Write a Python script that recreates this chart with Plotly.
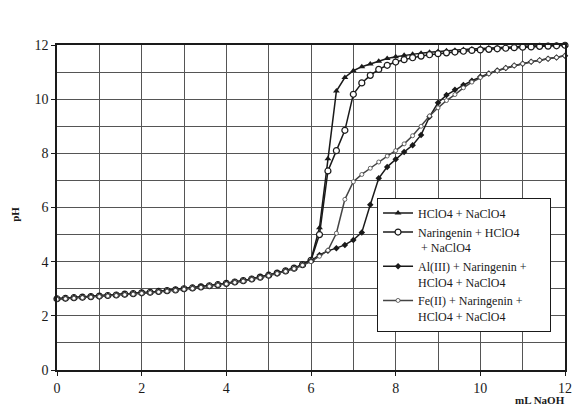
import plotly.graph_objects as go

mL_NaOH = [0.0, 0.2, 0.4, 0.6, 0.8, 1.0, 1.2, 1.4, 1.6, 1.8, 2.0, 2.2, 2.4, 2.6, 2.8,
           3.0, 3.2, 3.4, 3.6, 3.8, 4.0, 4.2, 4.4, 4.6, 4.8, 5.0, 5.2, 5.4, 5.6, 5.8,
           6.0, 6.2, 6.4, 6.6, 6.8, 7.0, 7.2, 7.4, 7.6, 7.8, 8.0, 8.2, 8.4, 8.6, 8.8,
           9.0, 9.2, 9.4, 9.6, 9.8, 10.0, 10.2, 10.4, 10.6, 10.8, 11.0, 11.2, 11.4,
           11.6, 11.8, 12.0]

ph_hclo4 = [2.63, 2.65, 2.67, 2.69, 2.71, 2.73, 2.75, 2.77, 2.80, 2.82, 2.85, 2.87, 2.90, 2.93, 2.96,
            3.00, 3.03, 3.07, 3.11, 3.15, 3.20, 3.25, 3.30, 3.36, 3.43, 3.50, 3.58, 3.66, 3.76, 3.89,
            4.07, 5.25, 7.80, 10.30, 10.80, 11.05, 11.20, 11.30, 11.40, 11.50, 11.57, 11.62, 11.66, 11.70, 11.73,
            11.76, 11.79, 11.81, 11.83, 11.85, 11.87, 11.89, 11.90, 11.92, 11.93, 11.95, 11.96, 11.97,
            11.98, 11.99, 12.00]

ph_naringenin = [2.63, 2.65, 2.67, 2.69, 2.71, 2.73, 2.75, 2.77, 2.80, 2.82, 2.85, 2.87, 2.90, 2.93, 2.96,
                 3.00, 3.03, 3.07, 3.11, 3.15, 3.20, 3.25, 3.30, 3.36, 3.43, 3.50, 3.58, 3.66, 3.76, 3.89,
                 4.05, 5.00, 7.35, 8.10, 8.85, 10.18, 10.60, 10.88, 11.10, 11.25, 11.37, 11.46, 11.53, 11.59, 11.64,
                 11.68, 11.71, 11.74, 11.77, 11.80, 11.82, 11.84, 11.86, 11.88, 11.90, 11.92, 11.93, 11.95,
                 11.96, 11.97, 11.99]

ph_al = [2.63, 2.65, 2.67, 2.69, 2.71, 2.73, 2.75, 2.77, 2.80, 2.82, 2.85, 2.87, 2.90, 2.93, 2.96,
         3.00, 3.03, 3.07, 3.11, 3.15, 3.20, 3.25, 3.30, 3.36, 3.43, 3.50, 3.58, 3.66, 3.76, 3.89,
         4.03, 4.25, 4.40, 4.50, 4.62, 4.80, 5.08, 6.10, 7.08, 7.50, 7.78, 8.05, 8.30, 8.68, 9.35,
         9.87, 10.15, 10.35, 10.52, 10.68, 10.83, 10.95, 11.06, 11.15, 11.24, 11.31, 11.38, 11.44,
         11.49, 11.54, 11.60]

ph_fe = [2.61, 2.63, 2.65, 2.67, 2.69, 2.71, 2.73, 2.75, 2.78, 2.80, 2.83, 2.85, 2.88, 2.91, 2.94,
         2.98, 3.01, 3.05, 3.09, 3.13, 3.18, 3.23, 3.28, 3.34, 3.41, 3.48, 3.56, 3.64, 3.74, 3.87,
         4.00, 4.20, 4.42, 5.05, 6.30, 6.95, 7.22, 7.45, 7.68, 7.90, 8.10, 8.35, 8.65, 9.00, 9.38,
         9.68, 9.95, 10.17, 10.42, 10.63, 10.80, 10.94, 11.05, 11.15, 11.24, 11.31, 11.38, 11.44,
         11.49, 11.54, 11.60]

PAD = "\u00a0" * 6
names = ["HClO4 + NaClO4",
         "Naringenin + HClO4" + PAD + "<br> + NaClO4",
         "Al(III) + Naringenin +" + PAD + "<br>HClO4 + NaClO4",
         "Fe(II) + Naringenin +<br>HClO4 + NaClO4"]

x_ticks = [0, 2, 4, 6, 8, 10, 12]
y_ticks = [0, 2, 4, 6, 8, 10, 12]

FONT = "Liberation Serif, Times New Roman, serif"

fig = go.Figure()
fig.add_trace(go.Scatter(x=mL_NaOH, y=ph_hclo4, name=names[0], mode="lines+markers",
                         line=dict(color="#1a1a1a", width=1.5),
                         marker=dict(symbol="triangle-up", size=6, color="#1a1a1a"),
                         cliponaxis=False))
fig.add_trace(go.Scatter(x=mL_NaOH, y=ph_naringenin, name=names[1], mode="lines+markers",
                         line=dict(color="#1a1a1a", width=1.5),
                         marker=dict(symbol="circle", size=6, color="white",
                                     line=dict(color="#1a1a1a", width=1.2)),
                         cliponaxis=False))
fig.add_trace(go.Scatter(x=mL_NaOH, y=ph_al, name=names[2], mode="lines+markers",
                         line=dict(color="#1a1a1a", width=1.5),
                         marker=dict(symbol="diamond", size=5, color="#1a1a1a"),
                         cliponaxis=False))
fig.add_trace(go.Scatter(x=mL_NaOH, y=ph_fe, name=names[3], mode="lines+markers",
                         line=dict(color="#444444", width=1.5),
                         marker=dict(symbol="circle", size=4, color="white",
                                     line=dict(color="#444444", width=0.8)),
                         cliponaxis=False))

axis_common = dict(showline=True, linecolor="#1a1a1a", linewidth=1.5, mirror=True,
                   showgrid=True, gridcolor="#555555", gridwidth=1, zeroline=False,
                   ticks="outside", ticklen=4, tickcolor="#1a1a1a", automargin=False,
                   tickfont=dict(family=FONT, size=14, color="#1a1a1a"))

fig.update_xaxes(range=[0, 12], tickvals=x_ticks,
                 minor=dict(dtick=1, showgrid=True, gridcolor="#555555", gridwidth=1),
                 **axis_common)
fig.update_yaxes(range=[0, 12], tickvals=y_ticks,
                 minor=dict(dtick=1, showgrid=True, gridcolor="#555555", gridwidth=1),
                 **axis_common)

fig.add_annotation(text="<b>pH</b>", xref="paper", yref="paper", x=-0.083, y=0.48,
                   xanchor="center", yanchor="middle",
                   textangle=-90, showarrow=False,
                   font=dict(family=FONT, size=11, color="#1a1a1a"))
fig.add_annotation(text="<b>mL NaOH</b>", xref="paper", yref="paper", x=0.951, y=-0.092,
                   xanchor="center", yanchor="middle",
                   showarrow=False, font=dict(family=FONT, size=11, color="#1a1a1a"))

fig.update_layout(
    width=573, height=410,
    margin=dict(l=57, r=8, t=45, b=40, autoexpand=False),
    plot_bgcolor="white", paper_bgcolor="white",
    showlegend=True,
    legend=dict(x=0.63, y=0.53, xanchor="left", yanchor="top",
                bgcolor="white", bordercolor="#1a1a1a", borderwidth=1,
                font=dict(family=FONT, size=12, color="#1a1a1a"),
                valign="top", tracegroupgap=0, itemwidth=30),
)

fig.write_html("out.html", config={"displayModeBar": False},
               post_script="document.body.style.margin='0';document.body.style.padding='0';")
